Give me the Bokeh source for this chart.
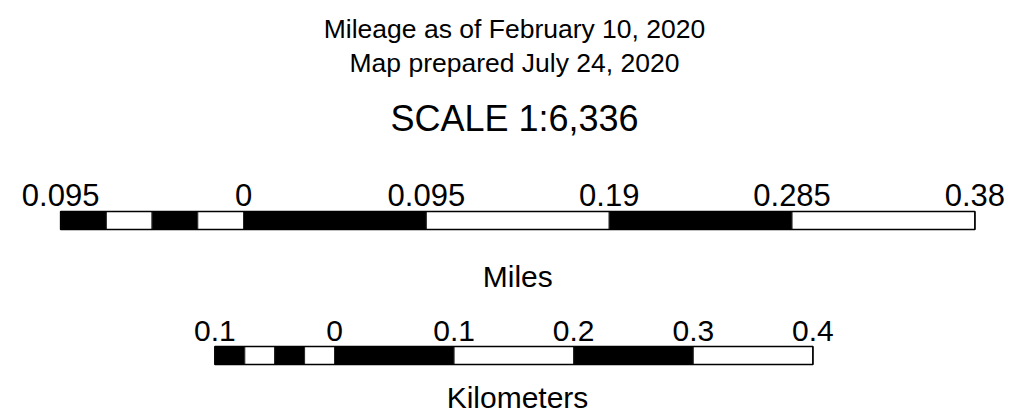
from bokeh.plotting import figure
from bokeh.models import Range1d
from bokeh.core.properties import value
from bokeh.embed import file_html
from bokeh.resources import INLINE

# ---- data ----
title_lines = ["Mileage as of February 10, 2020", "Map prepared July 24, 2020"]
scale_text = "SCALE 1:6,336"
mile_ticks = [-0.095, 0, 0.095, 0.19, 0.285, 0.38]
mile_tick_labels = ["0.095", "0", "0.095", "0.19", "0.285", "0.38"]
km_ticks = [-0.1, 0, 0.1, 0.2, 0.3, 0.4]
km_tick_labels = ["0.1", "0", "0.1", "0.2", "0.3", "0.4"]
mile_unit = "Miles"
km_unit = "Kilometers"
KM_PER_MILE = 1.609344
left_subdivisions = 4

# ---- layout (page pixels) ----
PX_PER_KM = 1196.0
MILE_ZERO_PX = 243.0
KM_ZERO_PX = 334.0
W, H = 1020, 416
x_start = (0 - MILE_ZERO_PX) / PX_PER_KM
x_end = (W - MILE_ZERO_PX) / PX_PER_KM
KM_OFFSET = (KM_ZERO_PX - MILE_ZERO_PX) / PX_PER_KM


def px_to_x(px):
    return (px - MILE_ZERO_PX) / PX_PER_KM


p = figure(width=W, height=H, output_backend="svg", toolbar_location=None,
           x_range=Range1d(x_start, x_end), y_range=Range1d(H, 0),
           min_border=0, min_border_left=0, min_border_right=0,
           min_border_top=0, min_border_bottom=0)
p.axis.visible = False
p.grid.visible = False
p.outline_line_color = None
p.background_fill_color = "white"
p.border_fill_color = "white"

FONT = value("Liberation Sans")


def bar_segments(ticks, n_sub):
    lefts, rights, colors = [], [], []
    a, b = ticks[0], ticks[1]
    step = (b - a) / n_sub
    for i in range(n_sub):
        lefts.append(a + i * step)
        rights.append(a + (i + 1) * step)
        colors.append("black" if i % 2 == 0 else "white")
    for i in range(1, len(ticks) - 1):
        lefts.append(ticks[i])
        rights.append(ticks[i + 1])
        colors.append("black" if (i - 1) % 2 == 0 else "white")
    return lefts, rights, colors


# miles bar
ml, mr, mc = bar_segments(mile_ticks, left_subdivisions)
ml = [v * KM_PER_MILE for v in ml]
mr = [v * KM_PER_MILE for v in mr]
p.quad(left=ml, right=mr, top=211, bottom=229, fill_color=mc,
       line_color="#222222", line_width=1)
p.quad(left=[ml[0]], right=[mr[-1]], top=211, bottom=229, fill_color=None,
       line_color="black", line_width=1.6)

# km bar
kl, kr, kc = bar_segments(km_ticks, left_subdivisions)
kl = [v + KM_OFFSET for v in kl]
kr = [v + KM_OFFSET for v in kr]
p.quad(left=kl, right=kr, top=346, bottom=364, fill_color=kc,
       line_color="#222222", line_width=1)
p.quad(left=[kl[0]], right=[kr[-1]], top=346, bottom=364, fill_color=None,
       line_color="black", line_width=1.6)

# tick labels
p.text(x=[v * KM_PER_MILE for v in mile_ticks], y=[194] * len(mile_ticks),
       text=mile_tick_labels, text_font=FONT, text_font_size="31px",
       text_align="center", text_baseline="alphabetic", text_color="black")
p.text(x=[v + KM_OFFSET for v in km_ticks], y=[330] * len(km_ticks),
       text=km_tick_labels, text_font=FONT, text_font_size="30px",
       text_align="center", text_baseline="alphabetic", text_color="black")

# unit labels
mile_center = (mile_ticks[0] + mile_ticks[-1]) / 2 * KM_PER_MILE
p.text(x=[mile_center], y=[276], text=[mile_unit], text_font=FONT,
       text_font_size="30px", text_align="center", text_baseline="alphabetic")
p.text(x=[px_to_x(517)], y=[397], text=[km_unit], text_font=FONT,
       text_font_size="30px", text_align="center", text_baseline="alphabetic")

# titles
tx = px_to_x(514)
p.text(x=[tx, tx], y=[28, 62], text=title_lines, text_font=FONT,
       text_font_size="26.5px", text_align="center", text_baseline="alphabetic")
p.text(x=[tx], y=[118], text=[scale_text], text_font=FONT,
       text_font_size="36px", text_align="center", text_baseline="alphabetic")

open("out.html", "w").write(file_html(p, INLINE))
